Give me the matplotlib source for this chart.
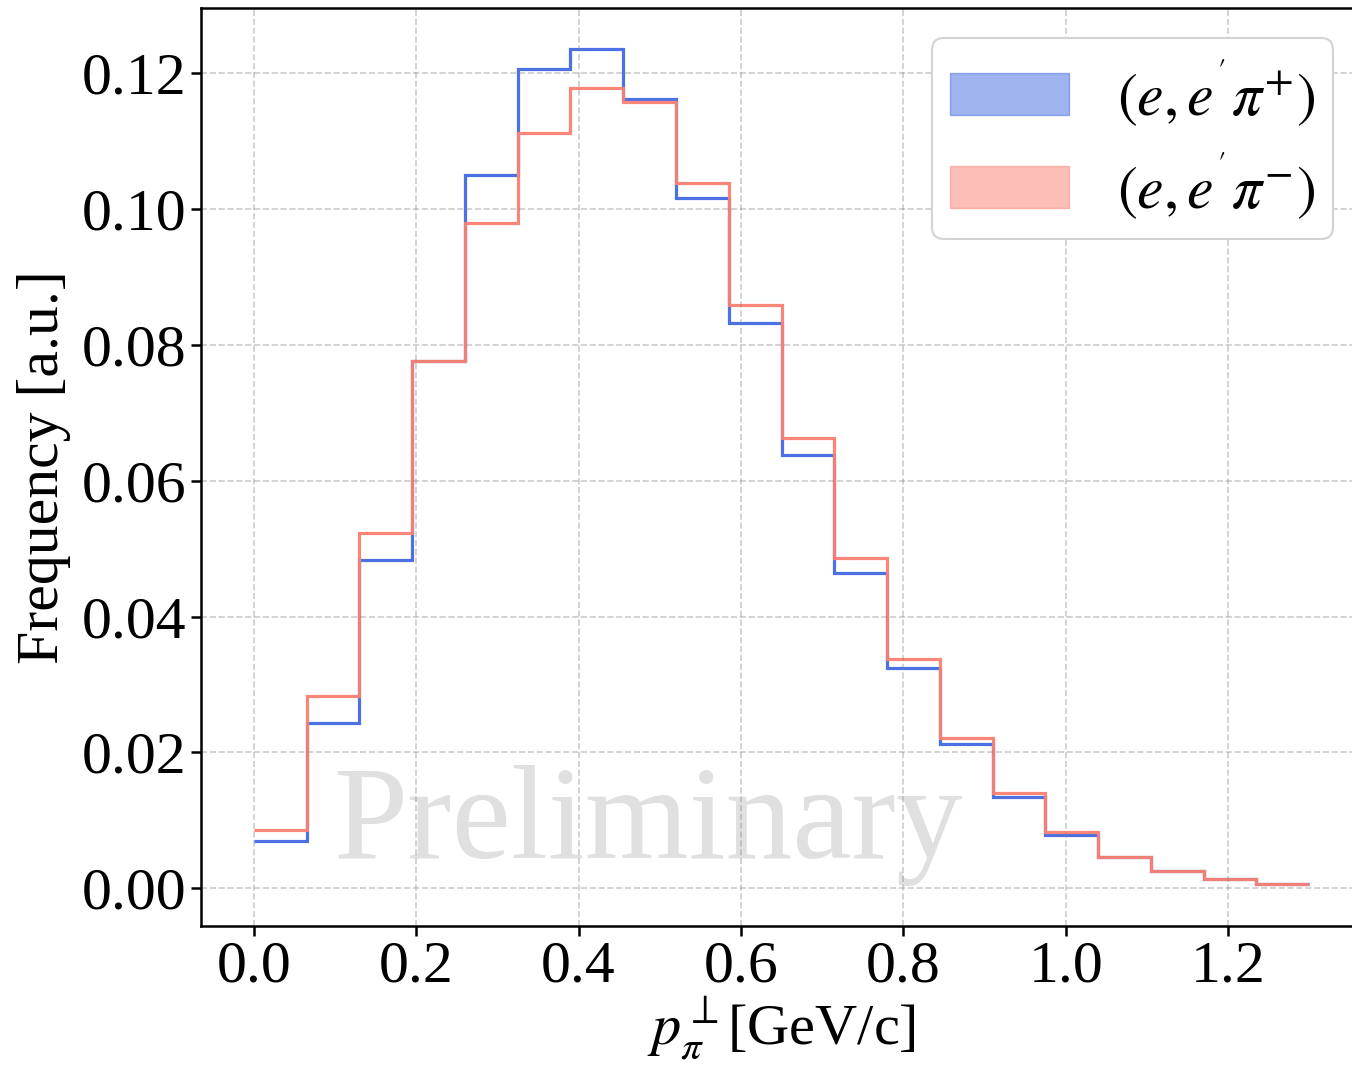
import numpy as np
import matplotlib
matplotlib.use("Agg")
import matplotlib.pyplot as plt
from matplotlib.patches import Patch

# bin edges of p_pi^perp [GeV/c]
bin_edges = np.linspace(0.0, 1.3, 21)

# normalised frequencies
freq_pip = [0.0070, 0.0243, 0.0483, 0.0776, 0.1050, 0.1206, 0.1235, 0.1162, 0.1016, 0.0832,
            0.0638, 0.0464, 0.0324, 0.0212, 0.0134, 0.0078, 0.0046, 0.0025, 0.0013, 0.0006]
freq_pim = [0.0085, 0.0283, 0.0523, 0.0776, 0.0980, 0.1112, 0.1178, 0.1158, 0.1039, 0.0858,
            0.0663, 0.0486, 0.0337, 0.0221, 0.0140, 0.0083, 0.0046, 0.0025, 0.0013, 0.0006]

labels = [r"$(e,e^{'}\pi^{+})$", r"$(e,e^{'}\pi^{-})$"]
colors = ["royalblue", "salmon"]

plt.rcParams["font.family"] = ["Liberation Serif", "DejaVu Serif"]
plt.rcParams["mathtext.fontset"] = "stix"

fig = plt.figure(figsize=(13.52, 10.74), dpi=100)
ax = fig.add_axes([0.1487, 0.1382, 0.8587, 0.8544])

for vals, c in zip([freq_pip, freq_pim], colors):
    ax.stairs(vals, bin_edges, baseline=None, color=c, lw=2.3, alpha=0.95)

ax.set_xlim(-0.065, 1.365)
ax.set_ylim(-0.0055, 0.1296)
ax.set_xticks([0.0, 0.2, 0.4, 0.6, 0.8, 1.0, 1.2])
ax.set_yticks([0.0, 0.02, 0.04, 0.06, 0.08, 0.10, 0.12])
ax.tick_params(labelsize=43, width=1.8, length=7)
for s in ax.spines.values():
    s.set_linewidth(1.8)
ax.grid(True, ls="--", color="gray", alpha=0.4, lw=1.2)

ax.set_xlabel(r"$p_{\pi}^{\perp}$[GeV/c]", fontsize=42, labelpad=0)
ax.set_ylabel("Frequency [a.u.]", fontsize=43, labelpad=8)

# watermark
ax.text(0.485, 0.0044, "Preliminary", fontsize=96, color="lightgray",
        alpha=0.7, ha="center", va="baseline", zorder=0)

handles = [Patch(facecolor=c, edgecolor=c, alpha=0.5) for c in colors]
leg = ax.legend(handles, labels, fontsize=43, loc="upper right",
                bbox_to_anchor=(0.975, 0.967), borderaxespad=0.0,
                handlelength=2.0, handleheight=0.7,
                handletextpad=0.8, labelspacing=0.35, borderpad=0.3, framealpha=1.0)
leg.get_frame().set_edgecolor("lightgray")
leg.get_frame().set_linewidth(1.5)

fig.savefig("out.png", dpi=100)
